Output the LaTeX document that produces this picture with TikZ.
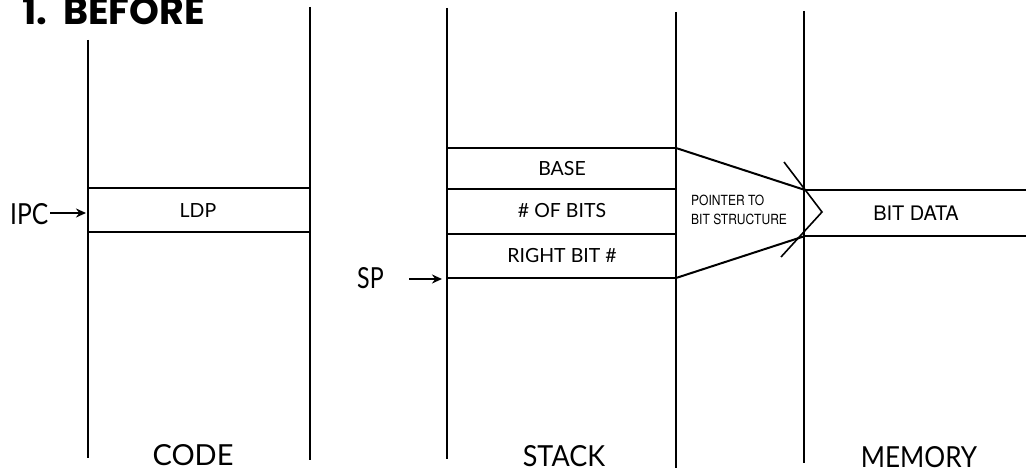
\documentclass[tikz,border=0pt]{standalone}
\usepackage{fontspec}
\setmainfont{Lato}
\newfontfamily\titlefont{Poppins}
\newfontfamily\helv{TeX Gyre Heros}
\usetikzlibrary{arrows.meta}
\begin{document}
\begin{tikzpicture}[x=1pt,y=-1pt,
  wall/.style={line width=1.8pt},
  rule/.style={line width=2.2pt},
  ptr/.style={line width=2pt},
  lbl/.style={inner sep=0pt,anchor=base,font=\fontsize{19.5}{20}\selectfont},
  big/.style={inner sep=0pt,anchor=base,font=\fontsize{29}{30}\selectfont},
  arr/.style={line width=1.8pt,-{Stealth[length=10pt,width=9pt]}}]
\useasboundingbox (0,0) rectangle (1026,476);
% title
\node[inner sep=0pt,anchor=base west,font=\titlefont\bfseries\fontsize{38}{40}\selectfont] (title) at (22,25) {1.\ \ BEFORE};
% column walls
\coordinate (cl1) at (88,40);  \coordinate (cl2) at (88,458);
\coordinate (cr1) at (310,7);  \coordinate (cr2) at (310,460);
\coordinate (sl1) at (447,8);  \coordinate (sl2) at (447,459);
\coordinate (sr1) at (676,12); \coordinate (sr2) at (676,468);
\coordinate (ml1) at (804,11); \coordinate (ml2) at (804,463);
\draw[wall] (cl1) -- (cl2);
\draw[wall] (cr1) -- (cr2);
\draw[wall] (sl1) -- (sl2);
\draw[wall] (sr1) -- (sr2);
\draw[wall] (ml1) -- (ml2);
% code box
\draw[rule] (88,188) -- (310,188);
\draw[rule] (88,232) -- (310,232);
\node[lbl] (ldp) at (198,218) {LDP};
\node[inner sep=0pt,anchor=base west,font=\fontsize{29}{30}\selectfont] (ipc) at (10,225) {\scalebox{0.85}[1]{IPC}};
\coordinate (ipct) at (86,213);
\coordinate (ipcs) at (50,213);
\draw[arr] (ipcs) -- (ipct);
% stack boxes
\coordinate (s0) at (676,148);
\coordinate (s3) at (676,278);
\draw[rule] (447,148) -- (s0);
\draw[rule] (447,189) -- (676,189);
\draw[rule] (447,234) -- (676,234);
\draw[rule] (447,278) -- (s3);
\node[lbl] (base) at (562,176) {BASE};
\node[lbl] (nbits) at (562,217) {\# OF BITS};
\node[lbl] (rbit) at (562,262) {RIGHT BIT \#};
\node[inner sep=0pt,anchor=base west,font=\fontsize{29}{30}\selectfont] (sp) at (357,288) {\scalebox{0.8}[1]{SP}};
\coordinate (spt) at (442,279);
\coordinate (sps) at (409,279);
\draw[arr] (sps) -- (spt);
% pointer
\coordinate (m0) at (805,190);
\coordinate (m1) at (805,236);
\draw[ptr] (s0) -- (m0);
\draw[ptr] (s3) -- (m1);
\coordinate (ch1) at (784,162);
\coordinate (chtip) at (822,212);
\coordinate (ch2) at (781,257);
\draw[line width=1.6pt] (ch1) -- (chtip) -- (ch2);
\node[inner sep=0pt,anchor=base west,font=\helv\fontsize{14}{15}\selectfont] (ptxt1) at (691,206) {\scalebox{0.86}[1]{POINTER TO}};
\node[inner sep=0pt,anchor=base west,font=\helv\fontsize{14}{15}\selectfont] (ptxt2) at (691,224) {\scalebox{0.86}[1]{BIT STRUCTURE}};
% memory
\coordinate (me0) at (1026,190);
\coordinate (me1) at (1026,236);
\draw[rule] (m0) -- (me0);
\draw[rule] (m1) -- (me1);
\node[inner sep=0pt,anchor=base,font=\helv\fontsize{20}{21}\selectfont] (bitdata) at (916,220) {BIT DATA};
% bottom labels
\node[big] (code) at (193,465) {CODE};
\node[big] (stack) at (564,466) {\scalebox{0.93}[1]{STACK}};
\node[big] (memory) at (919,467) {\scalebox{0.9}[1]{MEMORY}};
\end{tikzpicture}
\end{document}
